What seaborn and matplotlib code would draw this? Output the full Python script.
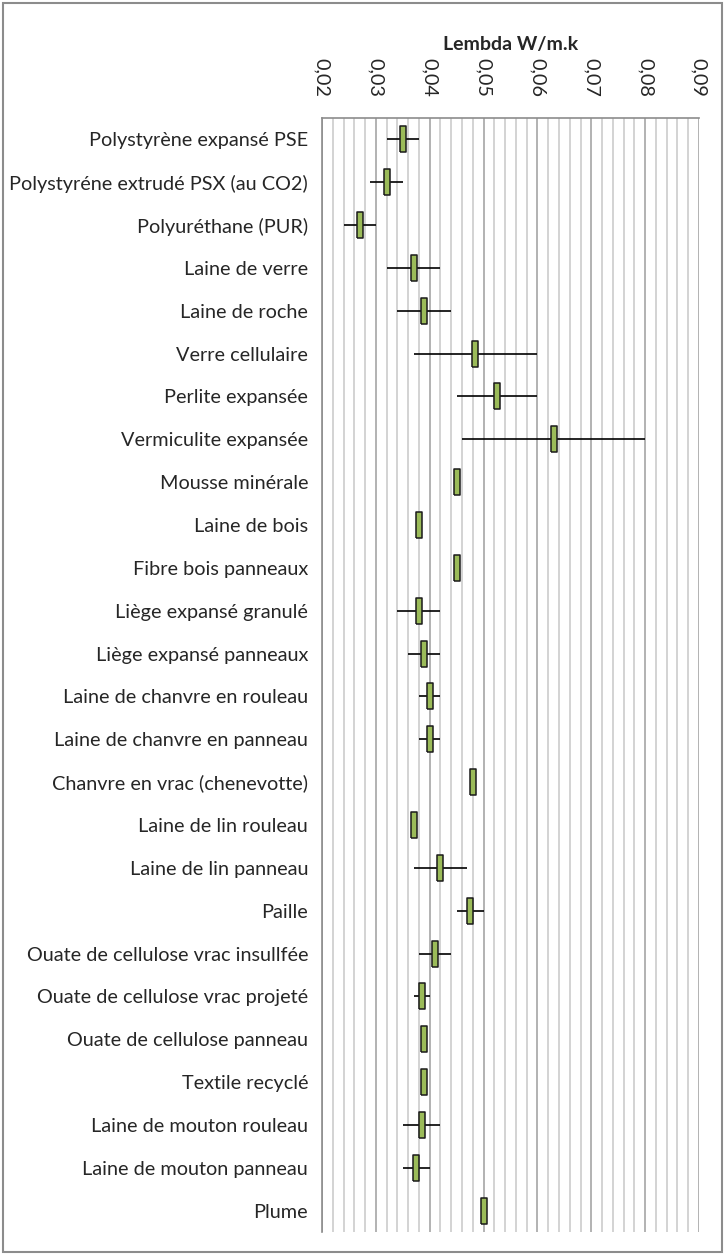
import matplotlib
matplotlib.use("Agg")
import matplotlib.pyplot as plt
import matplotlib.ticker as mticker
import seaborn as sns
import pandas as pd
from matplotlib.patches import Rectangle

# Data (lambda in W/m.K)
materials = [
    "Polystyrène expansé PSE", "Polystyréne extrudé PSX (au CO2)", "Polyuréthane (PUR)",
    "Laine de verre", "Laine de roche", "Verre cellulaire", "Perlite expansée",
    "Vermiculite expansée", "Mousse minérale", "Laine de bois", "Fibre bois panneaux",
    "Liège expansé granulé", "Liège expansé panneaux", "Laine de chanvre en rouleau",
    "Laine de chanvre en panneau", "Chanvre en vrac (chenevotte)", "Laine de lin rouleau",
    "Laine de lin panneau", "Paille", "Ouate de cellulose vrac insullfée",
    "Ouate de cellulose vrac projeté", "Ouate de cellulose panneau", "Textile recyclé",
    "Laine de mouton rouleau", "Laine de mouton panneau", "Plume",
]
lambda_mean = [0.035, 0.032, 0.027, 0.037, 0.039, 0.0485, 0.0525, 0.063, 0.045, 0.038,
               0.045, 0.038, 0.039, 0.040, 0.040, 0.048, 0.037, 0.042, 0.0475, 0.041,
               0.0385, 0.039, 0.039, 0.0385, 0.0375, 0.050]
lambda_min = [0.032, 0.029, 0.024, 0.032, 0.034, 0.037, 0.045, 0.046, 0.045, 0.038,
              0.045, 0.034, 0.036, 0.038, 0.038, 0.048, 0.037, 0.037, 0.045, 0.038,
              0.037, 0.039, 0.039, 0.035, 0.035, 0.050]
lambda_max = [0.038, 0.035, 0.030, 0.042, 0.044, 0.060, 0.060, 0.080, 0.045, 0.038,
              0.045, 0.042, 0.042, 0.042, 0.042, 0.048, 0.037, 0.047, 0.050, 0.044,
              0.040, 0.039, 0.039, 0.042, 0.040, 0.050]
x_ticks = [0.02, 0.03, 0.04, 0.05, 0.06, 0.07, 0.08, 0.09]

df = pd.DataFrame({"materiau": materials, "moyenne": lambda_mean,
                   "mini": lambda_min, "maxi": lambda_max})
df["pos"] = range(len(df))

sns.set_style("white")
plt.rcParams["font.family"] = ["Lato", "DejaVu Sans"]

fig = plt.figure(figsize=(7.26, 12.55), dpi=100)
ax = fig.add_axes([0.4435, 0.0183, 0.5193, 0.8877])

# min-max ranges
ax.hlines(df["pos"], df["mini"], df["maxi"], color="black", lw=1.2, zorder=3)

# mean markers (thin vertical rectangles)
rect = [(-0.2, -1), (0.2, -1), (0.2, 1), (-0.2, 1), (-0.2, -1)]
sns.scatterplot(data=df, x="moyenne", y="pos", marker=rect, s=340,
                color="#9BBB59", edgecolor="#1a1a1a", linewidth=1.1, zorder=4, ax=ax)

ax.set_xlim(0.02, 0.09)
ax.set_ylim(len(df) - 0.5, -0.5)
ax.set_yticks(df["pos"])
ax.set_yticklabels(df["materiau"], fontsize=14.3)
ax.set_ylabel("")

ax.xaxis.tick_top()
ax.xaxis.set_label_position("top")
ax.set_xticks(x_ticks)
ax.set_xticklabels([f"{t:.2f}".replace(".", ",") for t in x_ticks],
                   rotation=270, fontsize=14.3)
ax.xaxis.set_minor_locator(mticker.MultipleLocator(0.002))
ax.set_xlabel("Lembda W/m.k", fontsize=14, fontweight="bold", labelpad=6)

ax.grid(True, which="major", axis="x", color="#a6a6a6", lw=1.2)
ax.grid(True, which="minor", axis="x", color="#cccccc", lw=1.2)
ax.set_axisbelow(True)
ax.tick_params(axis="y", which="both", length=0, pad=10)
ax.tick_params(axis="x", which="both", length=0, pad=15)

for side in ["bottom", "right"]:
    ax.spines[side].set_visible(False)
for side in ["top", "left"]:
    ax.spines[side].set_color("#8c8c8c")
    ax.spines[side].set_linewidth(1.2)

# outer chart border
fig.patches.append(Rectangle((0.004, 0.002), 0.991, 0.996, transform=fig.transFigure,
                             fill=False, edgecolor="#8c8c8c", lw=1.5))

fig.savefig("out.png", dpi=100)
